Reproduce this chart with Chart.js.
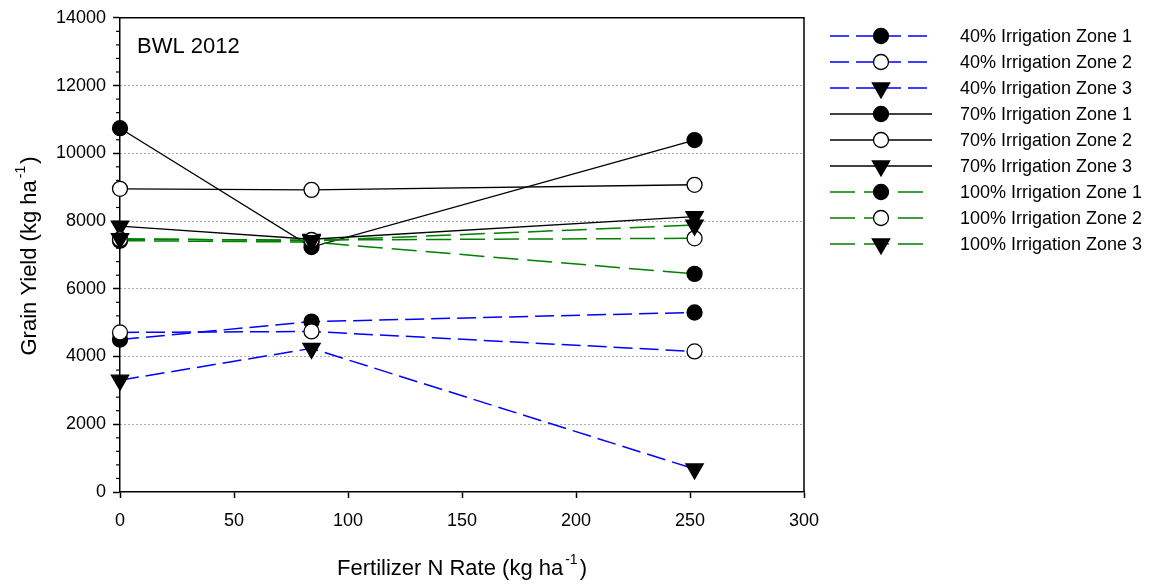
<!DOCTYPE html>
<html>
<head>
<meta charset="utf-8">
<script src="https://cdn.jsdelivr.net/npm/chart.js@4.4.1/dist/chart.umd.min.js"></script>
<style>
  html, body { margin: 0; padding: 0; background: #fff; }
</style>
</head>
<body>
<canvas id="yieldChart" width="1149" height="584"></canvas>
<script>
// data (kg/ha)
const nRates = [0, 84, 252];
const irr40z1 = [4500, 5030, 5300];
const irr40z2 = [4710, 4740, 4150];
const irr40z3 = [3300, 4240, 680];
const irr70z1 = [10740, 7230, 10390];
const irr70z2 = [8950, 8920, 9070];
const irr70z3 = [7850, 7460, 8130];
const irr100z1 = [7420, 7380, 6440];
const irr100z2 = [7460, 7440, 7490];
const irr100z3 = [7480, 7420, 7880];

const seriesNames = [
  '40% Irrigation Zone 1', '40% Irrigation Zone 2', '40% Irrigation Zone 3',
  '70% Irrigation Zone 1', '70% Irrigation Zone 2', '70% Irrigation Zone 3',
  '100% Irrigation Zone 1', '100% Irrigation Zone 2', '100% Irrigation Zone 3'
];
const xTickVals = [0, 50, 100, 150, 200, 250, 300];
const yTickVals = [0, 2000, 4000, 6000, 8000, 10000, 12000, 14000];

const FONT = 'Liberation Sans, Arial, sans-serif';

const seriesValues = [irr40z1, irr40z2, irr40z3, irr70z1, irr70z2, irr70z3, irr100z1, irr100z2, irr100z3];
const lineColors = ['#0000ff', '#000000', '#008000'];
const lineDashes = [[19, 7], [], [25, 9]];
const markerFill = ['#000000', '#ffffff', '#000000'];

const datasets = seriesValues.map((vals, i) => {
  const grp = Math.floor(i / 3), zone = i % 3;
  const tri = zone === 2;
  return {
    label: seriesNames[i],
    data: nRates.map((x, k) => ({ x: x, y: vals[k] })),
    order: -i, // later series sit on top, as in the original
    showLine: true,
    borderColor: lineColors[grp],
    borderWidth: grp === 1 ? 1.4 : 1.5,
    borderDash: lineDashes[grp],
    pointStyle: tri ? 'triangle' : 'circle',
    rotation: tri ? 180 : 0,
    pointRadius: tri ? 10 : 7.5,
    pointBackgroundColor: markerFill[zone],
    pointBorderColor: '#000',
    pointBorderWidth: 1.3,
    clip: false
  };
});

const extras = {
  id: 'extras',
  beforeDatasetsDraw(chart) {
    const { ctx, chartArea: a } = chart;
    ctx.save();
    ctx.strokeStyle = '#000';
    ctx.lineWidth = 1.5;
    ctx.beginPath();
    ctx.moveTo(a.left, a.top);
    ctx.lineTo(a.right, a.top);
    ctx.lineTo(a.right, a.bottom);
    ctx.stroke();
    // minor ticks on y
    const ys = chart.scales.y;
    ctx.lineWidth = 1.2;
    for (let v = 400; v < 14000; v += 400) {
      if (v % 2000 === 0) continue;
      const py = ys.getPixelForValue(v);
      ctx.beginPath();
      ctx.moveTo(a.left - 4, py);
      ctx.lineTo(a.left, py);
      ctx.stroke();
    }
    ctx.restore();
  },
  afterDraw(chart) {
    const { ctx } = chart;
    ctx.save();
    ctx.fillStyle = '#000';
    ctx.textBaseline = 'alphabetic';
    // panel label
    ctx.font = '22px ' + FONT;
    ctx.textAlign = 'left';
    ctx.fillText('BWL 2012', 137, 53);

    // x title
    const xMain = 'Fertilizer N Rate (kg ha', sup = '-1', close = ')';
    ctx.font = '22px ' + FONT;
    const w1 = ctx.measureText(xMain).width, w3 = ctx.measureText(close).width;
    ctx.font = '14px ' + FONT;
    const w2 = ctx.measureText(sup).width + 4;
    let x0 = 462 - (w1 + w2 + w3) / 2;
    ctx.font = '22px ' + FONT;
    ctx.fillText(xMain, x0, 575);
    ctx.font = '14px ' + FONT;
    ctx.fillText(sup, x0 + w1 + 2, 564);
    ctx.font = '22px ' + FONT;
    ctx.fillText(close, x0 + w1 + w2, 575);

    // y title
    const yMain = 'Grain Yield (kg ha';
    ctx.translate(36, 256);
    ctx.rotate(-Math.PI / 2);
    ctx.font = '22px ' + FONT;
    const v1 = ctx.measureText(yMain).width;
    let y0 = -(v1 + w2 + w3) / 2;
    ctx.fillText(yMain, y0, 0);
    ctx.font = '14px ' + FONT;
    ctx.fillText(sup, y0 + v1 + 2, -11);
    ctx.font = '22px ' + FONT;
    ctx.fillText(close, y0 + v1 + w2, 0);
    ctx.restore();

    // legend
    ctx.save();
    chart.data.datasets.forEach((ds, i) => {
      const ly = 36 + 26 * i;
      ctx.strokeStyle = ds.borderColor;
      ctx.lineWidth = ds.borderWidth;
      ctx.setLineDash(ds.borderDash);
      ctx.beginPath();
      ctx.moveTo(830, ly);
      ctx.lineTo(932, ly);
      ctx.stroke();
      ctx.setLineDash([]);
      ctx.fillStyle = ds.pointBackgroundColor;
      ctx.strokeStyle = ds.pointBorderColor;
      ctx.lineWidth = ds.pointBorderWidth;
      Chart.helpers.drawPoint(ctx, { pointStyle: ds.pointStyle, rotation: ds.rotation, radius: ds.pointRadius, borderWidth: ds.pointBorderWidth }, 881, ly);
      ctx.fillStyle = '#000';
      ctx.font = '18px ' + FONT;
      ctx.textAlign = 'left';
      ctx.textBaseline = 'middle';
      ctx.fillText(ds.label, 960, ly + 1);
    });
    ctx.restore();
  }
};

new Chart(document.getElementById('yieldChart'), {
  type: 'scatter',
  data: { datasets: datasets },
  plugins: [extras],
  options: {
    responsive: false,
    animation: false,
    events: [],
    layout: { padding: { top: 13, right: 345, left: 0, bottom: 0 } },
    plugins: { legend: { display: false }, tooltip: { enabled: false } },
    scales: {
      x: {
        type: 'linear', min: 0, max: 300,
        afterBuildTicks: s => { s.ticks = xTickVals.map(v => ({ value: v })); },
        afterFit: s => { s.height = 92; },
        grid: { drawOnChartArea: false, drawTicks: true, tickLength: 6, tickColor: '#000', tickWidth: 1.5 },
        border: { color: '#000', width: 1.5 },
        ticks: { color: '#000', font: { family: FONT, size: 18 }, padding: 12, maxRotation: 0, callback: v => String(v) }
      },
      y: {
        type: 'linear', min: 0, max: 14000,
        afterBuildTicks: s => { s.ticks = yTickVals.map(v => ({ value: v })); },
        afterFit: s => { s.width = 120; },
        grid: {
          color: c => (c.tick && c.tick.value > 0 && c.tick.value < 14000) ? '#555' : 'rgba(0,0,0,0)',
          lineWidth: 1, tickLength: 7, tickColor: '#000', tickWidth: 1.5, tickBorderDash: []
        },
        border: { color: '#000', width: 1.5, dash: [1, 3] },
        ticks: { color: '#000', font: { family: FONT, size: 18 }, padding: 7, callback: v => String(v) }
      }
    }
  }
});
</script>
</body>
</html>
